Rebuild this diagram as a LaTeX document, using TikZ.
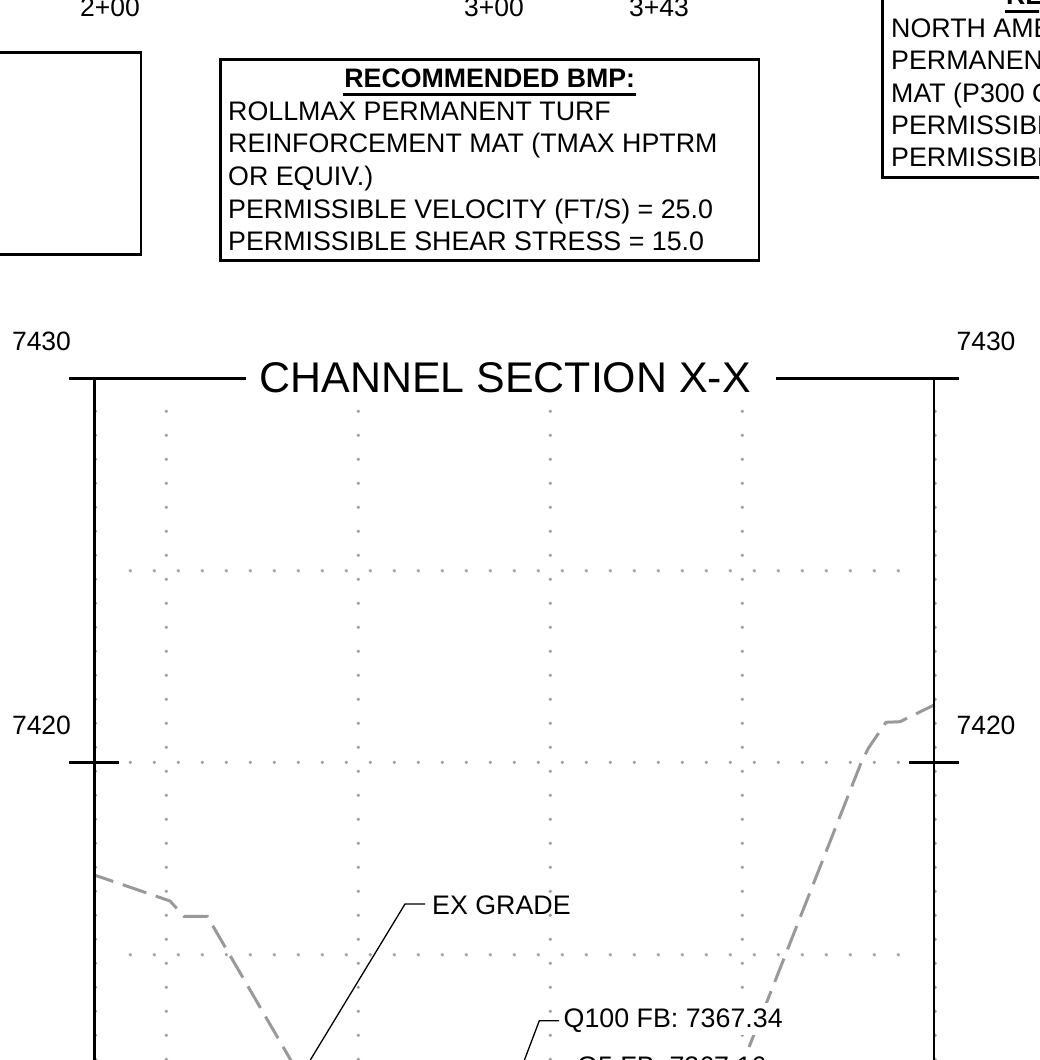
\documentclass[tikz,border=0pt]{standalone}
\usepackage{fontspec}
\setmainfont{Liberation Sans}
\usetikzlibrary{calc}
\newcommand{\pxfont}[1]{\fontsize{#1pt}{#1pt}\selectfont}
\tikzset{
  x=1pt,y=-1pt,
  axisline/.style={draw=black,line width=2.8pt},
  boxline/.style={draw=black,line width=2.8pt},
  leaderline/.style={draw=black,line width=1.3pt},
  gridpt/.style={fill=gridgray,draw=none},
  grade/.style={draw=gradegray,line width=3pt,dash pattern=on 25pt off 10pt,dash phase=5pt},
  lab/.style={anchor=base west,inner sep=0pt,font=\pxfont{26.8}},
  labc/.style={anchor=base,inner sep=0pt,font=\pxfont{26.5}},
}
\definecolor{gridgray}{HTML}{A0A0A0}
\definecolor{gradegray}{HTML}{999999}
\begin{document}
\begin{tikzpicture}
\useasboundingbox (0,0) rectangle (1039,1060);
\clip (0,0) rectangle (1039,1060);
% grid dots
\foreach \gx in {95.6,166.3,358.3,550.3,742.3,935.2}{
  \foreach \k in {0,...,27}{
    \fill[gridpt] (\gx,411.3+24*\k) circle (1.8);
  }
}
\foreach \gy in {570.7,762.3,954.7}{
  \foreach \k in {0,...,32}{
    \fill[gridpt] (130.3+24*\k,\gy) circle (1.8);
  }
}
% existing grade
\coordinate (gl0) at (94.3,875);
\coordinate (gl1) at (133.3,888.3);
\coordinate (gl2) at (170,901);
\coordinate (gl3) at (184,916.3);
\coordinate (gl4) at (207.3,916.3);
\coordinate (gl5) at (300,1076);
\draw[grade] (gl0) -- (gl1) -- (gl2) -- (gl3) -- (gl4) -- (gl5);
\coordinate (gr0) at (934,705);
\coordinate (gr1) at (900,721.7);
\coordinate (gr2) at (886,722.3);
\coordinate (gr3) at (868.3,748.3);
\coordinate (gr4) at (861,763);
\coordinate (gr5) at (740,1070);
\draw[grade] (gr0) -- (gr1) -- (gr2) -- (gr3) -- (gr4) -- (gr5);
% axes
\coordinate (al) at (94.3,378.5);
\coordinate (alb) at (94.3,1060);
\coordinate (ar) at (934,378.5);
\coordinate (arb) at (934,1060);
\draw[axisline] (al) -- (alb);
\draw[axisline] (ar) -- (arb);
\coordinate (tl0) at (69,378.5);
\coordinate (tl1) at (246,378.5);
\coordinate (tr0) at (776,378.5);
\coordinate (tr1) at (959,378.5);
\draw[axisline] (tl0) -- (tl1);
\draw[axisline] (tr0) -- (tr1);
\coordinate (ml0) at (69,762.3);
\coordinate (ml1) at (119,762.3);
\coordinate (mr0) at (909,762.3);
\coordinate (mr1) at (959,762.3);
\draw[axisline] (ml0) -- (ml1);
\draw[axisline] (mr0) -- (mr1);
% axis labels
\node[labc] (ya) at (41.5,350) {7430};
\node[labc] (yb) at (986,350) {7430};
\node[labc] (yc) at (41.5,734) {7420};
\node[labc] (yd) at (986,734) {7420};
% title
\node[anchor=base,inner sep=0pt,font=\pxfont{42.9}] (title) at (505.3,392.7) {CHANNEL SECTION X-X};
% station labels
\node[labc] (s1) at (110,16.7) {2+00};
\node[labc] (s2) at (494,16.7) {3+00};
\node[labc] (s3) at (659,16.7) {3+43};
% boxes
\draw[boxline] (-10,52.7) -- (141,52.7) -- (141,254.7) -- (-10,254.7);
\draw[boxline] (220.7,59.3) rectangle (759,260.5);
\node[anchor=base,inner sep=0pt,font=\bfseries\pxfont{26.7}] (bmphead) at (489.8,87) {RECOMMENDED BMP:};
\coordinate (u0) at (343,94.3);
\coordinate (u1) at (636,94.3);
\draw[boxline] (u0) -- (u1);
\node[lab] (b1) at (228,120.7) {ROLLMAX PERMANENT TURF};
\node[lab] (b2) at (228,152.7) {REINFORCEMENT MAT (TMAX HPTRM};
\node[lab] (b3) at (228,185.3) {OR EQUIV.)};
\node[lab] (b4) at (228,218) {PERMISSIBLE VELOCITY (FT/S) = 25.0};
\node[lab] (b5) at (228,250.7) {PERMISSIBLE SHEAR STRESS = 15.0};
% right box
\draw[boxline] (882.5,-10) -- (882.5,177.3) -- (1050,177.3);
\node[anchor=base west,inner sep=0pt,font=\bfseries\pxfont{26.7}] (rhead) at (1006,5) {RE};
\coordinate (ru0) at (1005,11.7);
\coordinate (ru1) at (1045,11.7);
\draw[boxline] (ru0) -- (ru1);
\node[lab] (r1) at (891,37.7) {NORTH AME};
\node[lab] (r2) at (891,69.7) {PERMANEN};
\node[lab] (r3) at (891,102) {MAT (P300 O};
\node[lab] (r4) at (891,134.3) {PERMISSIBL};
\node[lab] (r5) at (891,166.7) {PERMISSIBL};
% callouts
\node[lab] (ex) at (432,914.3) {EX GRADE};
\coordinate (exk) at (405,904);
\coordinate (exe) at (425,904);
\coordinate (exb) at (300,1077);
\draw[leaderline] (exe) -- (exk) -- (exb);
\node[lab,fill=white,text height=24.5pt,text depth=7.3pt] (q100) at (563.5,1027.7) {Q100 FB: 7367.34};
\coordinate (qk) at (539.3,1020.7);
\coordinate (qe) at (559,1020.7);
\coordinate (qb) at (518,1077);
\draw[leaderline] (qe) -- (qk) -- (qb);
\node[lab,fill=white,text height=23pt,text depth=7.3pt] (q5) at (577,1075) {Q5 FB: 7367.16};
\end{tikzpicture}
\end{document}
